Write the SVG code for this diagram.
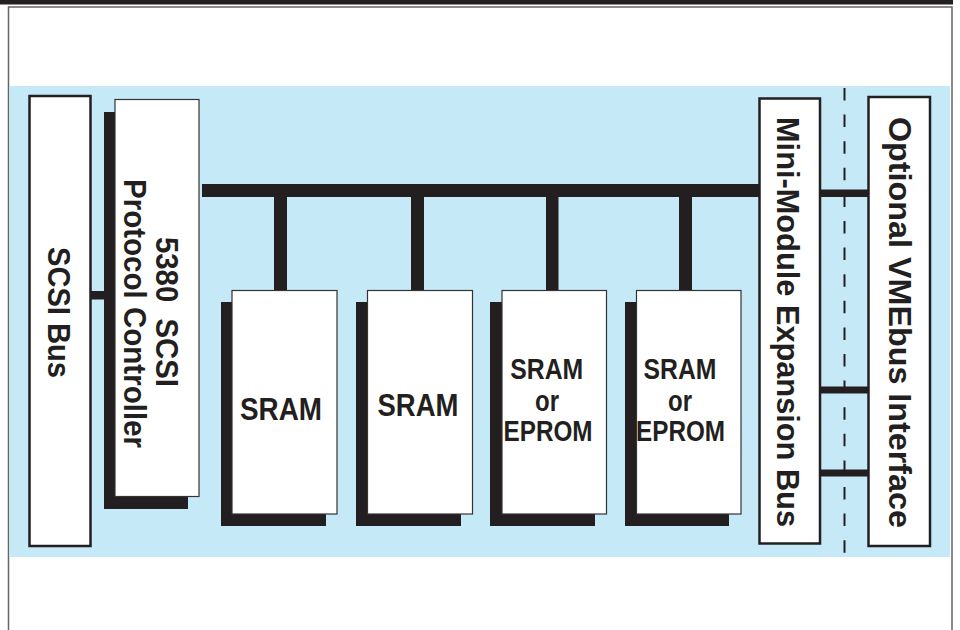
<svg xmlns="http://www.w3.org/2000/svg" width="960" height="630" viewBox="0 0 960 630">
<style>
.lbl{font-family:"Liberation Sans",Arial,sans-serif;font-weight:bold;fill:#231f20;text-anchor:middle;white-space:pre}
.big{font-size:32px}
.mid{font-size:29px}
.shadow{fill:#231f20}
.mem{fill:#ffffff;stroke:#333333;stroke-width:1.2}
.bus{fill:#ffffff;stroke:#231f20;stroke-width:2.5}
.wire{fill:#231f20}
</style>
<rect x="0" y="0" width="953" height="4.5" fill="#231f20"/>
<path d="M8.5 630 V7 H952 V630" fill="none" stroke="#666666" stroke-width="1.5"/>
<rect x="9.5" y="86" width="940.5" height="471" fill="#c6e9f8"/>

<g id="connectors">
<rect class="wire" x="90" y="291" width="15" height="8.5"/>
<rect class="wire" x="202" y="184" width="557" height="13"/>
<rect class="wire" x="274" y="190" width="13" height="102"/>
<rect class="wire" x="411" y="190" width="13" height="102"/>
<rect class="wire" x="546" y="190" width="12.5" height="102"/>
<rect class="wire" x="679" y="190" width="13" height="102"/>
<rect class="wire" x="819" y="189.5" width="50" height="7.5"/>
<rect class="wire" x="819" y="386.5" width="50" height="7"/>
<rect class="wire" x="819" y="469.5" width="50" height="7"/>
<line x1="844.5" y1="88" x2="844.5" y2="556" stroke="#231f20" stroke-width="2" stroke-dasharray="12.5 14.1"/>
</g>

<g id="scsi-bus">
<rect class="bus" x="29.5" y="96" width="61" height="450"/>
<text class="lbl big" transform="translate(48 312.5) rotate(90)" textLength="131" lengthAdjust="spacingAndGlyphs">SCSI Bus</text>
</g>

<g id="controller">
<rect class="shadow" x="104" y="112" width="84" height="397"/>
<rect class="mem" x="115" y="99.5" width="84" height="397"/>
<text class="lbl big" transform="translate(156 312) rotate(90)" textLength="150" lengthAdjust="spacingAndGlyphs">5380  SCSI</text>
<text class="lbl big" transform="translate(124 313.5) rotate(90)" textLength="269" lengthAdjust="spacingAndGlyphs">Protocol Controller</text>
</g>

<g id="sram1">
<rect class="shadow" x="221" y="302" width="105" height="224"/>
<rect class="mem" x="232" y="290.5" width="105" height="223.5"/>
<text class="lbl big" x="281" y="420" textLength="82" lengthAdjust="spacingAndGlyphs">SRAM</text>
</g>

<g id="sram2">
<rect class="shadow" x="356" y="302" width="105" height="224"/>
<rect class="mem" x="367.5" y="290.5" width="105" height="223.5"/>
<text class="lbl big" x="418" y="416" textLength="81" lengthAdjust="spacingAndGlyphs">SRAM</text>
</g>

<g id="sram-eprom1">
<rect class="shadow" x="490" y="302" width="105" height="224"/>
<rect class="mem" x="502" y="290.5" width="104.5" height="223.5"/>
<text class="lbl mid" x="546.7" y="379" textLength="73" lengthAdjust="spacingAndGlyphs">SRAM</text>
<text class="lbl mid" x="547" y="410.7" textLength="24" lengthAdjust="spacingAndGlyphs">or</text>
<text class="lbl mid" x="548" y="441" textLength="89" lengthAdjust="spacingAndGlyphs">EPROM</text>
</g>

<g id="sram-eprom2">
<rect class="shadow" x="625" y="302" width="104" height="224"/>
<rect class="mem" x="636.5" y="290.5" width="104.5" height="223.5"/>
<text class="lbl mid" x="680" y="379" textLength="73" lengthAdjust="spacingAndGlyphs">SRAM</text>
<text class="lbl mid" x="680" y="410.7" textLength="24" lengthAdjust="spacingAndGlyphs">or</text>
<text class="lbl mid" x="680.5" y="441" textLength="89" lengthAdjust="spacingAndGlyphs">EPROM</text>
</g>

<g id="expansion-bus">
<rect class="bus" x="759.5" y="98.5" width="60.5" height="445"/>
<text class="lbl big" transform="translate(777 322) rotate(90)" textLength="410" lengthAdjust="spacingAndGlyphs">Mini-Module Expansion Bus</text>
</g>

<g id="vmebus">
<rect class="bus" x="868.5" y="97" width="61.5" height="449"/>
<text class="lbl big" transform="translate(889 322.5) rotate(90)" textLength="411" lengthAdjust="spacingAndGlyphs">Optional VMEbus Interface</text>
</g>
</svg>
